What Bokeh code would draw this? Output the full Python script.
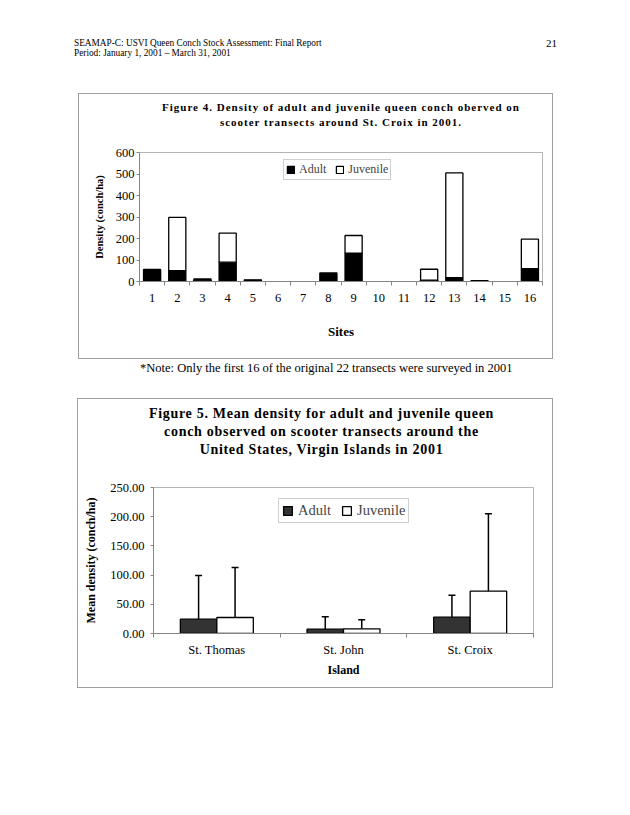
from bokeh.plotting import figure
from bokeh.models import (Range1d, FixedTicker, Legend, LegendItem, Whisker, TeeHead,
                          ColumnDataSource, NumeralTickFormatter, CustomJSTickFormatter, Div)
from bokeh.layouts import column, row
from bokeh.transform import dodge
from bokeh.embed import file_html
from bokeh.resources import INLINE

SERIF = "Liberation Serif"

# ---------------- data ----------------
header_lines = ["SEAMAP-C: USVI Queen Conch Stock Assessment: Final Report",
                "Period: January 1, 2001 \u2013 March 31, 2001"]
page_number = "21"

fig4_title = ["Figure 4. Density of adult and juvenile queen conch oberved on",
              "scooter transects around St. Croix in 2001."]
sites = list(range(1, 17))
adult_density = [56, 51, 6, 90, 8, 0, 0, 40, 132, 0, 0, 6, 18, 4, 0, 60]
juvenile_density = [0, 247, 6, 135, 0, 0, 0, 0, 82, 0, 0, 51, 487, 0, 0, 137]
fig4_yticks = [0, 100, 200, 300, 400, 500, 600]

note_text = "*Note: Only the first 16 of the original 22 transects were surveyed in 2001"

fig5_title = ["Figure 5. Mean density for adult and juvenile queen",
              "conch observed on scooter transects around the",
              "United States, Virgin Islands in 2001"]
islands = ["St. Thomas", "St. John", "St. Croix"]
adult_mean = [24.5, 7.4, 28.0]
adult_sd = [74.8, 21.1, 37.6]
juvenile_mean = [27.4, 8.0, 72.5]
juvenile_sd = [85.6, 15.4, 132.5]
fig5_yticks = [0, 50, 100, 150, 200, 250]

AXIS_GRAY = "#858585"
FRAME_GRAY = "#b4b4b4"
BOX_GRAY = "#a0a0a0"
# box drawn as inset shadows: title part = left/top/right, plot part = left/bottom/right
TOP_PART_STYLE = {"box-shadow": "inset 1px 1px 0 0 %s, inset -1px 0 0 0 %s" % (BOX_GRAY, BOX_GRAY)}
BOTTOM_PART_STYLE = {"box-shadow": "inset 1px -1px 0 0 %s, inset -1px 0 0 0 %s" % (BOX_GRAY, BOX_GRAY)}


def title_div(lines, width, height, cx, top, size, spacing, line_h):
    html = ("<div style=\"position:relative;width:%dpx;height:%dpx;\">"
            "<div style=\"position:absolute;left:%gpx;top:%gpx;transform:translateX(-50%%);"
            "text-align:center;white-space:nowrap;font-family:'Liberation Serif';font-weight:bold;"
            "font-size:%gpx;letter-spacing:%gpx;line-height:%gpx;color:#000\">%s</div></div>"
            % (width, height, cx, top, size, spacing, line_h, "<br>".join(lines)))
    return Div(width=width, height=height, margin=(0, 0, 0, 0), text=html, styles=TOP_PART_STYLE)


# ---------------- header ----------------
header = Div(width=630, height=93, margin=(0, 0, 0, 0), text=(
    "<div style=\"position:relative;width:630px;height:93px;font-family:'Liberation Serif';color:#000\">"
    "<div style=\"position:absolute;left:74px;top:38px;font-size:9.3px;line-height:10px;white-space:nowrap\">"
    + header_lines[0] + "<br>" + header_lines[1] + "</div>"
    "<div style=\"position:absolute;left:546px;top:37px;font-size:11px;line-height:13px\">"
    + page_number + "</div></div>"))

# ---------------- figure 4 ----------------
t1 = title_div(fig4_title, 475, 40, 263, 6.5, 11, 1, 15)

p1 = figure(width=475, height=226, output_backend="svg", toolbar_location=None,
            x_range=Range1d(sites[0] - 0.5, sites[-1] + 0.5), y_range=Range1d(0, fig4_yticks[-1]),
            min_border_left=61, min_border_right=11, min_border_top=19, min_border_bottom=78,
            margin=(0, 0, 0, 0), styles=BOTTOM_PART_STYLE)
p1.xgrid.visible = False
p1.ygrid.visible = False
p1.outline_line_color = FRAME_GRAY
p1.background_fill_color = "white"
p1.border_fill_alpha = 0

src1 = ColumnDataSource(dict(
    site=sites, Adult=adult_density, Juvenile=juvenile_density,
    a_alpha=[1 if v > 0 else 0 for v in adult_density],
    j_alpha=[1 if v > 0 else 0 for v in juvenile_density]))
bars = p1.vbar_stack(["Adult", "Juvenile"], x="site", width=0.68, source=src1,
                     fill_color=["black", "white"], line_color="black",
                     line_alpha=["a_alpha", "j_alpha"], line_width=1.3)
both_idx = next(i for i, (a, j) in enumerate(zip(adult_density, juvenile_density)) if a > 0 and j > 0)

xa = p1.xaxis[0]
xa.ticker = FixedTicker(ticks=sites, minor_ticks=[s - 0.5 for s in sites] + [sites[-1] + 0.5])
xa.major_tick_out = 0
xa.major_tick_in = 0
xa.minor_tick_out = 4
xa.minor_tick_in = 0
xa.axis_label = "Sites"
ya = p1.yaxis[0]
ya.ticker = FixedTicker(ticks=fig4_yticks)
ya.major_tick_out = 3
ya.major_tick_in = 0
ya.minor_tick_out = 0
ya.minor_tick_in = 0
ya.axis_label = "Density (conch/ha)"
for ax in (xa, ya):
    ax.axis_line_color = AXIS_GRAY
    ax.major_tick_line_color = AXIS_GRAY
    ax.minor_tick_line_color = AXIS_GRAY
    ax.major_label_text_font = SERIF
    ax.major_label_text_font_size = "12.5px"
    ax.major_label_text_color = "black"
    ax.axis_label_text_font = SERIF
    ax.axis_label_text_font_style = "bold"
    ax.axis_label_text_color = "black"
xa.major_label_standoff = 8
xa.axis_label_standoff = 19
xa.axis_label_text_font_size = "13px"
ya.major_label_standoff = 2
ya.axis_label_standoff = 8
ya.axis_label_text_font_size = "10.5px"

leg1 = Legend(items=[LegendItem(label="Adult", renderers=[bars[0]], index=both_idx),
                     LegendItem(label="Juvenile", renderers=[bars[1]], index=both_idx)],
              location=(144, 101), orientation="horizontal", margin=0, padding=2,
              spacing=9, label_standoff=4, glyph_width=9, glyph_height=9,
              label_height=9, label_text_font=SERIF, label_text_font_size="12px",
              border_line_color="#a0a0a0", border_line_width=1, background_fill_alpha=1)
p1.add_layout(leg1)

box1 = column(t1, p1, spacing=0, margin=(0, 0, 0, 78))

# ---------------- note ----------------
note = Div(width=630, height=39, margin=(0, 0, 0, 0), text=(
    "<div style=\"position:relative;width:630px;height:39px\">"
    "<div style=\"position:absolute;left:140px;top:2px;font-family:'Liberation Serif';"
    "font-size:12.5px;line-height:14px;white-space:nowrap;color:#000\">" + note_text + "</div></div>"))

# ---------------- figure 5 ----------------
t2 = title_div(fig5_title, 476, 65, 244.5, 7, 14, 0.7, 18)

x_pos = list(range(1, len(islands) + 1))
p2 = figure(width=476, height=225, output_backend="svg", toolbar_location=None,
            x_range=Range1d(0.5, len(islands) + 0.5), y_range=Range1d(0, fig5_yticks[-1]),
            min_border_left=76, min_border_right=20, min_border_top=24, min_border_bottom=55,
            margin=(0, 0, 0, 0), styles=BOTTOM_PART_STYLE)
p2.xgrid.visible = False
p2.ygrid.visible = False
p2.outline_line_color = FRAME_GRAY
p2.background_fill_color = "white"
p2.border_fill_alpha = 0

src2 = ColumnDataSource(dict(
    x=x_pos, adult=adult_mean, juv=juvenile_mean,
    adult_hi=[m + s for m, s in zip(adult_mean, adult_sd)],
    juv_hi=[m + s for m, s in zip(juvenile_mean, juvenile_sd)]))
ra = p2.vbar(x=dodge("x", -0.144, range=p2.x_range), top="adult", width=0.288, source=src2,
             fill_color="#333333", line_color="black", line_width=1.3)
rj = p2.vbar(x=dodge("x", 0.144, range=p2.x_range), top="juv", width=0.288, source=src2,
             fill_color="white", line_color="black", line_width=1.3)
for col_lo, col_hi, off in (("adult", "adult_hi", -0.144), ("juv", "juv_hi", 0.144)):
    p2.add_layout(Whisker(source=src2, base=dodge("x", off, range=p2.x_range),
                          lower=col_lo, upper=col_hi, line_width=1.5, line_color="black",
                          upper_head=TeeHead(size=7, line_width=1.5, line_color="black"),
                          lower_head=None))

xb = p2.xaxis[0]
xb.ticker = FixedTicker(ticks=x_pos, minor_ticks=[x - 0.5 for x in x_pos] + [x_pos[-1] + 0.5])
xb.formatter = CustomJSTickFormatter(args=dict(names=islands),
                                     code="const n = names[Math.round(tick) - 1]; return n === undefined ? '' : n;")
xb.major_tick_out = 0
xb.major_tick_in = 0
xb.minor_tick_out = 4
xb.minor_tick_in = 0
xb.axis_label = "Island"
yb = p2.yaxis[0]
yb.ticker = FixedTicker(ticks=fig5_yticks)
yb.formatter = NumeralTickFormatter(format="0.00")
yb.major_tick_out = 3
yb.major_tick_in = 0
yb.minor_tick_out = 0
yb.minor_tick_in = 0
yb.axis_label = "Mean density (conch/ha)"
for ax in (xb, yb):
    ax.axis_line_color = AXIS_GRAY
    ax.major_tick_line_color = AXIS_GRAY
    ax.minor_tick_line_color = AXIS_GRAY
    ax.major_label_text_font = SERIF
    ax.major_label_text_font_size = "12.5px"
    ax.major_label_text_color = "black"
    ax.axis_label_text_font = SERIF
    ax.axis_label_text_font_style = "bold"
    ax.axis_label_text_font_size = "12px"
    ax.axis_label_text_color = "black"
xb.major_label_standoff = 5
xb.axis_label_standoff = 3
yb.major_label_standoff = 6
yb.axis_label_standoff = 9

leg2 = Legend(items=[LegendItem(label="Adult", renderers=[ra]),
                     LegendItem(label="Juvenile", renderers=[rj])],
              location=(125, 110), orientation="horizontal", margin=0, padding=3,
              spacing=10, label_standoff=5, glyph_width=11, glyph_height=11,
              label_height=11, label_text_font=SERIF, label_text_font_size="14.5px",
              border_line_color="#a0a0a0", border_line_width=1, background_fill_alpha=1)
p2.add_layout(leg2)

box2 = column(t2, p2, spacing=0, margin=(0, 0, 0, 77))

layout = column(header, row(box1, margin=(0, 0, 0, 0)), note, row(box2, margin=(0, 0, 0, 0)),
                spacing=0, margin=(0, 0, 0, 0))
open("out.html", "w").write(file_html(layout, INLINE))
